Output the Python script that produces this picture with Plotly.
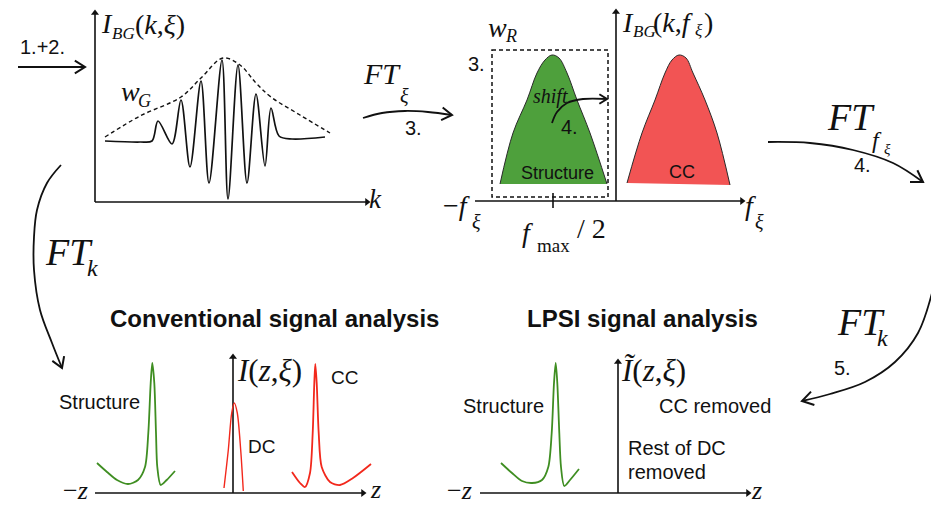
import math
import plotly.graph_objects as go

W, H = 931, 506

# ---------------- data (pixel space) ----------------
# top-left: interferogram wave and its Gaussian envelope w_G
wave_x = [105, 140, 152, 158, 172, 181, 190, 201, 209, 222, 228, 238, 247, 256, 265, 271, 279, 292, 325]
wave_y = [141, 142, 141, 121, 144, 100, 167, 81, 183, 60, 199, 65, 183, 94, 166, 108, 136, 139, 137]
env_x = [105, 140, 181, 201, 223, 240, 256, 271, 300, 330]
env_y = [137, 116, 97, 78, 58, 65, 83, 97, 115, 133]

# middle: spectra (structure / CC humps)
struct_x = [500, 513, 527, 537, 545, 552, 559, 567, 577, 590, 607]
struct_y = [184, 133, 100, 73, 60, 55, 58, 73, 100, 133, 184]
cc_x = [627, 642, 655, 665, 672, 679, 686, 693, 705, 717, 730]
cc_y = [183, 133, 100, 73, 60, 55, 58, 73, 100, 133, 185]
win_R = [492, 50, 608, 197]          # dashed window x0, y0, x1, y1
tick_fmax = [553, 193, 208]           # x, y0, y1

# bottom: depth profiles
conv_struct_x = [97, 107, 117, 128, 138, 145, 148.3, 150.7, 152.3, 154.3, 156, 157.3, 160.7, 166.7, 175]
conv_struct_y = [463, 472, 480, 484, 480, 467, 433, 383, 363, 383, 433, 467, 485, 480, 471]
conv_dc_x = [224, 228.3, 231.7, 234.3, 237.3, 240.7, 243.3]
conv_dc_y = [488, 450, 413, 403, 413, 450, 491]
conv_cc_x = [292, 300, 305, 310, 312.7, 314.3, 315.3, 316.7, 318.7, 321.7, 330, 340, 353, 371]
conv_cc_y = [472, 483, 487, 473, 433, 383, 364, 383, 433, 467, 482, 485, 478, 464]
lpsi_struct_x = [501, 512, 522, 532, 542, 548.3, 551.7, 554, 555.7, 557.3, 559.3, 561, 564.3, 570, 579]
lpsi_struct_y = [463, 473, 481, 483, 480, 467, 433, 383, 363, 383, 433, 467, 486, 480, 469]

# axes
axes_h = [(95, 202, 367), (475, 201, 742), (95, 493, 363), (480, 493, 748)]   # x0, y, x1
axes_v = [(95, 202, 13), (616, 201, 12), (233, 493, 357), (618, 493, 362)]    # x, y0, y1

# process arrows
arr_12_x, arr_12_y = [18, 85], [67, 67]
arr_ftxi_x, arr_ftxi_y = [363, 382, 405, 428, 452], [118, 113, 111, 112, 115]
arr_ftf_x, arr_ftf_y = [768, 810, 853, 893, 923], [142, 143, 150, 163, 182]
arr_ftk2_x, arr_ftk2_y = [932, 918, 895, 865, 830, 802], [293, 333, 362, 382, 394, 401]
arr_ftk1_x, arr_ftk1_y = [61, 47, 37, 34, 34, 40, 52, 62], [165, 183, 210, 237, 270, 310, 343, 368]
arr_shift_x, arr_shift_y = [552, 557, 567, 583, 607], [123, 112, 103, 99, 99]

SERIF = "Liberation Serif, Times New Roman, serif"
SANS = "Liberation Sans, Arial, sans-serif"

labels = [
    ("<i>I</i>", 100, 23, 28, SERIF, "left"),
    ("<i>BG</i>", 111, 33, 17, SERIF, "left"),
    ("(<i>k</i>,<i>ξ</i>)", 134, 24, 28, SERIF, "left"),
    ("<i>w</i>", 120, 91, 28, SERIF, "left"),
    ("<i>G</i>", 137, 101, 18, SERIF, "left"),
    ("<i>k</i>", 368, 199, 27, SERIF, "left"),
    ("1.+2.", 42, 47, 20, SANS, "center"),
    ("<i>FT</i>", 362, 73, 30, SERIF, "left"),
    ("<i>ξ</i>", 399, 96, 20, SERIF, "left"),
    ("3.", 413, 128, 20, SANS, "center"),
    ("<i>w</i>", 487, 27, 28, SERIF, "left"),
    ("<i>R</i>", 504, 36, 18, SERIF, "left"),
    ("3.", 476, 64, 20, SANS, "center"),
    ("<i>I</i>", 621, 22, 28, SERIF, "left"),
    ("<i>BG</i>", 632, 31, 17, SERIF, "left"),
    ("(<i>k</i>,<i>f</i>", 652, 22, 28, SERIF, "left"),
    ("<i>ξ</i>", 694, 30, 17, SERIF, "left"),
    (")", 703, 22, 28, SERIF, "left"),
    ("<i>shift</i>", 550, 96, 20, SERIF, "center"),
    ("4.", 569, 127, 20, SANS, "center"),
    ("Structure", 557, 173, 18, SANS, "center"),
    ("CC", 682, 172, 18, SANS, "center"),
    ("−<i>f</i>", 442, 205, 28, SERIF, "left"),
    ("<i>ξ</i>", 471, 222, 20, SERIF, "left"),
    ("<i>f</i>", 521, 232, 28, SERIF, "left"),
    ("max", 536, 245, 19, SERIF, "left"),
    ("/ 2", 576, 228, 28, SERIF, "left"),
    ("<i>f</i>", 744, 205, 28, SERIF, "left"),
    ("<i>ξ</i>", 754, 222, 20, SERIF, "left"),
    ("<i>FT</i>", 826, 117, 38, SERIF, "left"),
    ("<i>f</i>", 871, 140, 24, SERIF, "left"),
    ("<i>ξ</i>", 883, 149, 15, SERIF, "left"),
    ("4.", 862, 165, 20, SANS, "center"),
    ("<i>FT</i>", 836, 322, 38, SERIF, "left"),
    ("<i>k</i>", 876, 338, 24, SERIF, "left"),
    ("5.", 842, 368, 20, SANS, "center"),
    ("<i>FT</i>", 44, 252, 38, SERIF, "left"),
    ("<i>k</i>", 86, 268, 24, SERIF, "left"),
    ("<b>Conventional signal analysis</b>", 274, 318, 24, SANS, "center"),
    ("Structure", 99, 402, 20, SANS, "center"),
    ("<i>I</i>(<i>z</i>,<i>ξ</i>)", 236, 370, 31, SERIF, "left"),
    ("DC", 261, 446, 19, SANS, "center"),
    ("CC", 344, 377, 19, SANS, "center"),
    ("−<i>z</i>", 62, 490, 26, SERIF, "left"),
    ("<i>z</i>", 369, 489, 26, SERIF, "left"),
    ("<b>LPSI signal analysis</b>", 642, 318, 24, SANS, "center"),
    ("<i>Ĩ</i>(<i>z</i>,<i>ξ</i>)", 620, 370, 31, SERIF, "left"),
    ("Structure", 503, 406, 20, SANS, "center"),
    ("CC removed", 715, 406, 20, SANS, "center"),
    ("Rest of DC", 627, 448, 20, SANS, "left"),
    ("removed", 627, 472, 20, SANS, "left"),
    ("−<i>z</i>", 446, 490, 26, SERIF, "left"),
    ("<i>z</i>", 750, 490, 26, SERIF, "left"),
]

INK = "#111111"
GREEN_FILL = "#4ea03c"
RED_FILL = "#f25454"
GREEN_LINE = "#3f8e22"
RED_LINE = "#f2281c"

fig = go.Figure()


def add_line(xs, ys, color=INK, width=1.6, dash=None, shape="linear", smoothing=1.0,
             fill=None, fillcolor=None):
    fig.add_trace(go.Scatter(
        x=xs, y=ys, mode="lines",
        line=dict(color=color, width=width, dash=dash, shape=shape, smoothing=smoothing),
        fill=fill, fillcolor=fillcolor, hoverinfo="skip", showlegend=False))


def add_chevron(xs, ys, length=12, half_angle=32, width=2.0, color=INK):
    ang = math.atan2(ys[-1] - ys[-2], xs[-1] - xs[-2])
    tip = (xs[-1], ys[-1])
    px, py = [], []
    for s in (1, -1):
        a = ang + math.pi + s * math.radians(half_angle)
        px.append(tip[0] + length * math.cos(a))
        py.append(tip[1] + length * math.sin(a))
    add_line([px[0], tip[0], px[1]], [py[0], tip[1], py[1]], color=color, width=width)


# humps (filled)
add_line(struct_x, struct_y, color="#2a2a2a", width=1.0, shape="spline", smoothing=1.0,
         fill="toself", fillcolor=GREEN_FILL)
add_line(cc_x, cc_y, color="#2a2a2a", width=1.0, shape="spline", smoothing=1.0,
         fill="toself", fillcolor=RED_FILL)

# dashed window w_R
fig.add_shape(type="rect", x0=win_R[0], y0=win_R[1], x1=win_R[2], y1=win_R[3],
              line=dict(color=INK, width=1.5, dash="4px,3px"), layer="above")

# axes
for x0, y, x1 in axes_h:
    add_line([x0, x1], [y, y], width=1.6)
    fig.add_trace(go.Scatter(x=[x1], y=[y], mode="markers",
                             marker=dict(symbol="triangle-right", size=7, color=INK),
                             hoverinfo="skip", showlegend=False))
for x, y0, y1 in axes_v:
    add_line([x, x], [y0, y1], width=1.6)
    fig.add_trace(go.Scatter(x=[x], y=[y1], mode="markers",
                             marker=dict(symbol="triangle-up", size=7, color=INK),
                             hoverinfo="skip", showlegend=False))

# f_max/2 tick
add_line([tick_fmax[0], tick_fmax[0]], [tick_fmax[1], tick_fmax[2]], width=1.6)

# wave and envelope
add_line(env_x, env_y, width=1.4, dash="4px,3px", shape="spline", smoothing=1.0)
add_line(wave_x, wave_y, width=1.7, shape="spline", smoothing=0.9)

# depth profiles
add_line(conv_struct_x, conv_struct_y, color=GREEN_LINE, width=1.8, shape="spline", smoothing=0.8)
add_line(conv_dc_x, conv_dc_y, color=RED_LINE, width=1.4, shape="spline", smoothing=0.8)
add_line(conv_cc_x, conv_cc_y, color=RED_LINE, width=1.8, shape="spline", smoothing=0.8)
add_line(lpsi_struct_x, lpsi_struct_y, color=GREEN_LINE, width=1.8, shape="spline", smoothing=0.8)

# process arrows
for ax_, ay_, size in [(arr_12_x, arr_12_y, 12), (arr_ftxi_x, arr_ftxi_y, 12),
                       (arr_ftf_x, arr_ftf_y, 13), (arr_ftk2_x, arr_ftk2_y, 13),
                       (arr_ftk1_x, arr_ftk1_y, 12), (arr_shift_x, arr_shift_y, 9)]:
    add_line(ax_, ay_, width=1.8, shape="spline", smoothing=1.0)
    add_chevron(ax_, ay_, length=size)

for text, x, y, size, fam, anchor in labels:
    fig.add_annotation(x=x, y=y, text=text, showarrow=False, xanchor=anchor, yanchor="middle",
                       font=dict(family=fam, size=size, color=INK), borderpad=0)

fig.update_layout(
    width=W, height=H, margin=dict(l=0, r=0, t=0, b=0),
    paper_bgcolor="white", plot_bgcolor="white", showlegend=False,
    xaxis=dict(range=[0, W], visible=False, fixedrange=True),
    yaxis=dict(range=[H, 0], visible=False, fixedrange=True),
)

fig.write_html("out.html", config={"displayModeBar": False},
               post_script="document.body.style.margin='0px';document.body.style.overflow='hidden';")
